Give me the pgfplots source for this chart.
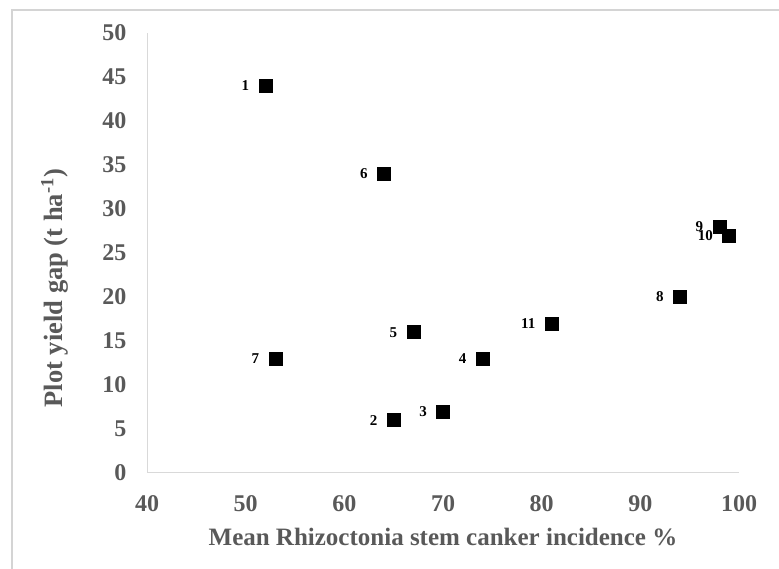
\documentclass[border=0pt]{standalone}
\usepackage{fontspec}
\setmainfont{Liberation Serif}
\usepackage{pgfplots}
\pgfplotsset{compat=1.18}
\usepackage{pgfplotstable}

\definecolor{txtgray}{HTML}{595959}
\definecolor{axgray}{HTML}{D9D9D9}
\definecolor{framegray}{HTML}{D4D4D4}

% Plot number, stem canker incidence (%), yield gap (t/ha)
\pgfplotstableread{
x  y  lab
52 44 1
65 6  2
70 7  3
74 13 4
67 16 5
64 34 6
53 13 7
94 20 8
98 28 9
99 27 10
81 17 11
}\gapdata

\begin{document}
\begin{tikzpicture}[x=1pt,y=1pt]
\useasboundingbox (0,0) rectangle (779,569);
\draw[framegray, line width=1.2pt] (12,0) -- (12,559) -- (779,559);
\begin{axis}[
  at={(147pt,96pt)}, anchor=south west,
  scale only axis, width=592pt, height=440pt,
  xmin=40, xmax=100, ymin=0, ymax=50,
  xtick distance=10, ytick distance=5,
  axis lines=left,
  axis line style={-, axgray, line width=1pt},
  major tick length=0pt,
  /pgf/number format/assume math mode=true,
  ticklabel style={font=\bfseries\fontsize{24}{24}\selectfont, text=txtgray},
  xticklabel style={yshift=-19pt},
  yticklabel style={xshift=-17pt},
  xlabel={Mean Rhizoctonia stem canker incidence \%},
  ylabel={Plot yield gap (t ha\textsuperscript{-1})},
  xlabel style={font=\bfseries\fontsize{25}{25}\selectfont, text=txtgray,
    at={(rel axis cs:0.5,0)}, anchor=base, yshift=-73pt},
  ylabel style={font=\bfseries\fontsize{26.5}{26.5}\selectfont, text=txtgray,
    at={(rel axis cs:-0.156,0.42)}, anchor=center, rotate=0},
  clip=false,
]
\addplot[only marks, mark=square*, mark size=6.5pt, black,
  point meta=explicit symbolic,
  nodes near coords={\pgfplotspointmeta},
  nodes near coords style={anchor=east, inner sep=0pt, xshift=-16pt,
    font=\bfseries\fontsize{15}{15}\selectfont, text=black}]
  table[x=x, y=y, meta=lab] {\gapdata};
\end{axis}
\end{tikzpicture}
\end{document}
